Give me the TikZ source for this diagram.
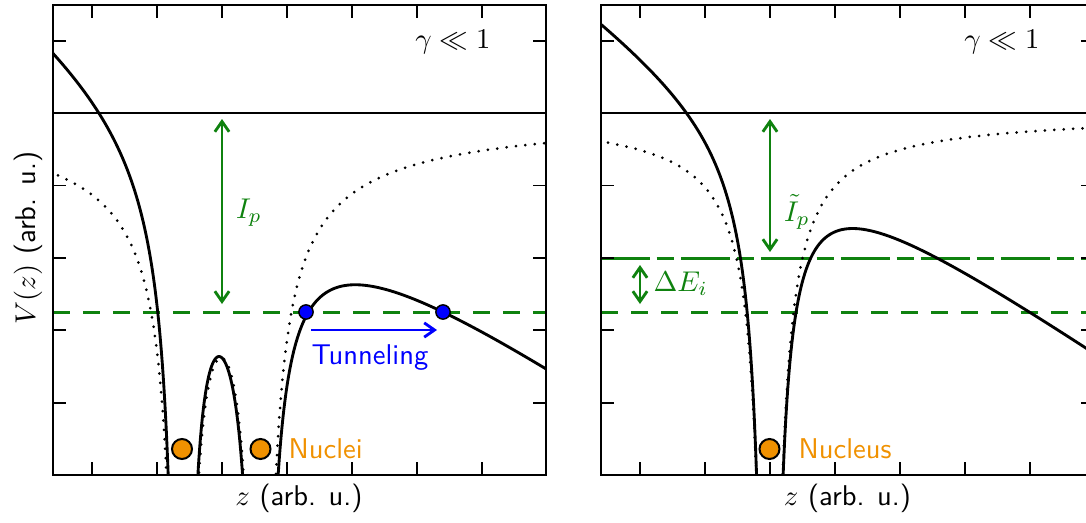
\documentclass[tikz,border=0pt]{standalone}
\usetikzlibrary{arrows.meta}
\definecolor{mygreen}{RGB}{15,130,15}
\definecolor{myorange}{RGB}{240,145,0}
\definecolor{myblue}{RGB}{0,0,255}
\begin{document}
\begin{tikzpicture}[x=0.35pt,y=-0.35pt,
  frame/.style={line width=0.6pt},
  tickline/.style={line width=0.6pt},
  curve/.style={line width=1pt, black},
  dots/.style={line width=1.05pt, dash pattern=on 0pt off 3.3pt, line cap=round},
  zeroline/.style={line width=0.5pt},
  level/.style={mygreen, line width=1.05pt, dash pattern=on 6pt off 4.5pt},
  level2/.style={mygreen, line width=1.05pt, dash pattern=on 17pt off 2.5pt on 6pt off 2.5pt},
  garrow/.style={mygreen, line width=1pt, {Straight Barb[length=3.6pt,width=5pt]}-{Straight Barb[length=3.6pt,width=5pt]}},
  barrow/.style={myblue, line width=1pt, -{Straight Barb[length=3.6pt,width=5pt]}},
  nuc/.style={circle, draw=black, fill=myorange, line width=0.7pt, minimum size=7pt, inner sep=0pt},
  bdot/.style={circle, draw=black, fill=myblue, line width=0.5pt, minimum size=5pt, inner sep=0pt},
  lbl/.style={font=\sffamily, inner sep=0pt},
]
\clip (0,0) rectangle (1086,523);

% ================= LEFT PANEL =================
\begin{scope}
\clip (53,5) rectangle (546,475);
\draw[zeroline] (53,113) -- (546,113);
\draw[level] (53,312) -- (546,312);
\draw[dots] plot[domain=58:170, samples=200] (\x,{113+4805/abs(\x-182)+4805/abs(\x-260.5)});
\draw[dots] plot[domain=194:248.5, samples=200] (\x,{113+4805/abs(\x-182)+4805/abs(\x-260.5)});
\draw[dots] plot[domain=271:546, samples=250] (\x,{113+4805/abs(\x-182)+4805/abs(\x-260.5)});
\draw[curve] plot[domain=53:169, samples=250] (\x,{113+4805/abs(\x-182)+4805/abs(\x-260.5)+0.71*(\x-222)});
\draw[curve] plot[domain=193.5:249, samples=250] (\x,{113+4805/abs(\x-182)+4805/abs(\x-260.5)+0.71*(\x-222)});
\draw[curve] plot[domain=271:546, samples=300] (\x,{113+4805/abs(\x-182)+4805/abs(\x-260.5)+0.695*(\x-221)});
\end{scope}
\draw[frame] (53,5) rectangle (546,475);
\foreach \t in {92,157,...,482} {
  \draw[tickline] (\t,475) -- (\t,462);
  \draw[tickline] (\t,5) -- (\t,18);
}
\foreach \t in {40.7,113.1,185.5,257.9,330.3,402.7,475.1} {
  \draw[tickline] (53,\t) -- (66,\t);
  \draw[tickline] (546,\t) -- (533,\t);
}
\coordinate (ipT) at (222,119);
\coordinate (ipB) at (222,304);
\draw[garrow] (ipT) -- (ipB);
\node[text=mygreen, inner sep=0pt] (ip) at (249,213) {$I_p$};
\node[bdot] (t1) at (306,312) {};
\node[bdot] (t2) at (443,312) {};
\coordinate (tunA) at (311,330);
\coordinate (tunB) at (437,330);
\draw[barrow] (tunA) -- (tunB);
\node[lbl, text=myblue, anchor=base west] (tun) at (311,364) {Tunneling};
\node[nuc] (n1) at (182,449) {};
\node[nuc] (n2) at (260.5,449) {};
\node[lbl, text=myorange, anchor=base west] (nucl) at (288,458) {Nuclei};
\node[inner sep=0pt, anchor=base east] (g1) at (491,48) {$\gamma\ll 1$};
\node[inner sep=0pt] (xl1) at (299,498) {$z$ \sffamily(arb. u.)};
\node[inner sep=0pt, rotate=90] (yl) at (28,238) {$V(z)$ \sffamily(arb. u.)};

% ================= RIGHT PANEL =================
\begin{scope}
\clip (601,5) rectangle (1094,475);
\draw[zeroline] (601,113) -- (1094,113);
\draw[level2] (601,258) -- (1094,258);
\draw[level] (601,312) -- (1094,312);
\draw[dots] plot[domain=608:758, samples=250] (\x,{113+4800/abs(\x-769.5)});
\draw[dots] plot[domain=781:1094, samples=300] (\x,{113+4800/abs(\x-769.5)});
\draw[curve] plot[domain=601:757.5, samples=300] (\x,{113+4800/abs(\x-769.5)+0.695*(\x-769.5)});
\draw[curve] plot[domain=781.5:1094, samples=300] (\x,{113+4800/abs(\x-769.5)+0.695*(\x-769.5)});
\end{scope}
\draw[frame] (601,5) rectangle (1094,475);
\foreach \t in {640,705,...,1030} {
  \draw[tickline] (\t,475) -- (\t,462);
  \draw[tickline] (\t,5) -- (\t,18);
}
\foreach \t in {40.7,113.1,185.5,257.9,330.3,402.7,475.1} {
  \draw[tickline] (601,\t) -- (614,\t);
  \draw[tickline] (1094,\t) -- (1081,\t);
}
\coordinate (tipT) at (770,119);
\coordinate (tipB) at (770,252);
\draw[garrow] (tipT) -- (tipB);
\node[text=mygreen, inner sep=0pt] (tip) at (797,212) {$\tilde I_p$};
\coordinate (deT) at (640,265);
\coordinate (deB) at (640,304);
\draw[garrow] (deT) -- (deB);
\node[text=mygreen, inner sep=0pt, anchor=west] (de) at (653,284) {$\Delta E_i$};
\node[nuc] (n3) at (769.5,449) {};
\node[lbl, text=myorange, anchor=base west] (nucs) at (798,458) {Nucleus};
\node[inner sep=0pt, anchor=base east] (g2) at (1040,48) {$\gamma\ll 1$};
\node[inner sep=0pt] (xl2) at (847.5,498) {$z$ \sffamily(arb. u.)};
\end{tikzpicture}
\end{document}
